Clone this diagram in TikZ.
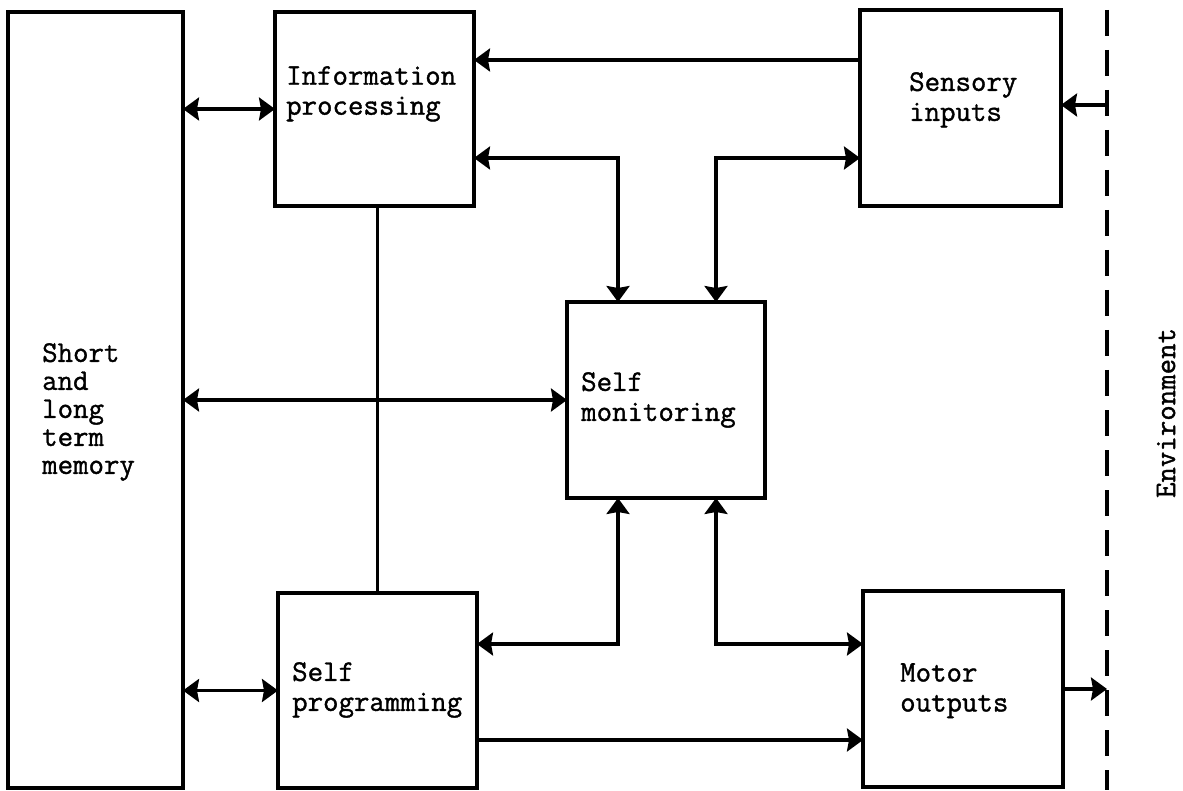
\documentclass[tikz,border=0pt]{standalone}
\usepackage{fontspec}
\newfontfamily\tw{Latin Modern Mono}[FakeBold=1.2]
\usetikzlibrary{arrows.meta}
\begin{document}
\begin{tikzpicture}[x=1pt,y=-1pt,
  >={Stealth[length=16pt,width=23pt,inset=2pt]},
  box/.style={draw, line width=3.6pt, inner sep=0pt, outer sep=0pt},
  lbl/.style={font=\tw\fontsize{30}{30}\selectfont, align=left, inner sep=0pt, anchor=north west},
  conn/.style={line width=3.2pt},
]
\useasboundingbox (0,0) rectangle (1183,791);

% boxes
\node[box, minimum width=175pt, minimum height=776pt] (mem) at (95.5,400) {};
\node[box, minimum width=199pt, minimum height=194pt] (info) at (374.5,109) {};
\node[box, minimum width=201pt, minimum height=196pt] (sens) at (960.5,108) {};
\node[box, minimum width=198pt, minimum height=196pt] (mon) at (666,400) {};
\node[box, minimum width=199pt, minimum height=195pt] (prog) at (377.5,690.5) {};
\node[box, minimum width=200pt, minimum height=196pt] (motor) at (963,689) {};

% labels
\node[lbl, font=\tw\fontsize{30}{28}\selectfont] (memt) at (42,343) {Short\\and\\long\\term\\memory};
\node[lbl] (infot) at (286,66) {Information\\processing};
\node[lbl] (senst) at (909,72) {Sensory\\inputs};
\node[lbl] (mont) at (581,372) {Self\\monitoring};
\node[lbl] (progt) at (292,662) {Self\\programming};
\node[lbl] (motort) at (900,663) {Motor\\outputs};

% environment boundary
\coordinate (envtop) at (1107,10);
\coordinate (envbot) at (1107,790);
\draw[line width=3.2pt, dash pattern=on 26pt off 14pt] (envtop) -- (envbot);
\node[font=\tw\fontsize{30}{30}\selectfont, rotate=90, inner sep=0pt] (envt) at (1166,413) {Environment};

% connectors
\draw[conn,<->] (info.west -| mem.east) -- (info.west);
\draw[conn,->] (sens.west |- 0,60) -- (info.east |- 0,60);
\draw[conn,->] (envtop |- 0,105) -- (sens.east |- 0,105);
\draw[conn,<->] (info.east |- 0,158) -| (mon.north -| 618,0);
\draw[conn,<->] (sens.west |- 0,158) -| (mon.north -| 716,0);
\draw[conn,<->] (mon.west -| mem.east) -- (mon.west);
\draw[conn] (info.south -| prog.north) -- (prog.north);
\draw[conn,<->] (prog.east |- 0,644) -| (mon.south -| 618,0);
\draw[conn,<->] (motor.west |- 0,644) -| (mon.south -| 716,0);
\draw[conn,<->] (prog.west -| mem.east) -- (prog.west);
\draw[conn,->] (prog.east |- 0,740) -- (motor.west |- 0,740);
\draw[conn,->] (motor.east) -- (motor.east -| envtop);
\end{tikzpicture}
\end{document}
